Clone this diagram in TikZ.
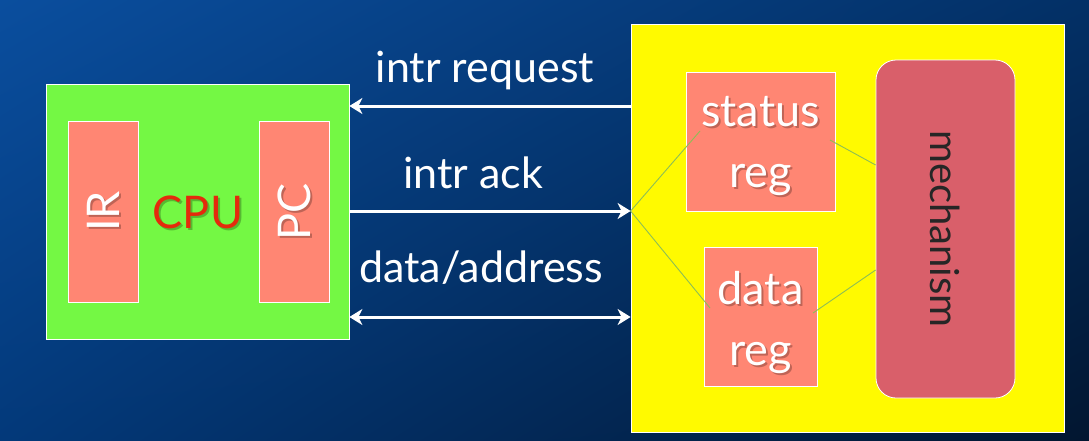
\documentclass[tikz,border=0pt]{standalone}
\usepackage{fontspec}
\setmainfont{Lato}
\usetikzlibrary{arrows.meta,shadings}
\definecolor{bgA}{HTML}{0A4E9E}
\definecolor{bgB}{HTML}{033066}
\definecolor{bgC}{HTML}{03397A}
\definecolor{bgD}{HTML}{021630}
\definecolor{cpugreen}{HTML}{74F844}
\definecolor{salmon}{HTML}{FF8673}
\definecolor{ylw}{HTML}{FFFA00}
\definecolor{mech}{HTML}{D95F6A}
\definecolor{cpured}{HTML}{E42A0C}
\definecolor{wire}{HTML}{8DBE55}
\begin{document}
\begin{tikzpicture}[x=1pt,y=-1pt,
  box/.style={draw=white, line width=0.8pt, inner sep=0pt},
  reg/.style={box, fill=salmon},
  lbl/.style={text=white, font=\fontsize{43}{48}\selectfont},
  big/.style={font=\fontsize{45}{50}\selectfont},
  regtxt/.style={text=white, font=\fontsize{45}{61}\selectfont, align=center},
  shadow/.style={text=black, opacity=0.25},
  arr/.style={draw=white, line width=3pt, arrows={-Stealth[length=13pt,width=16pt,inset=4pt]}},
  arr2/.style={draw=white, line width=3pt, arrows={Stealth[length=13pt,width=16pt,inset=4pt]-Stealth[length=13pt,width=16pt,inset=4pt]}},
  wirel/.style={draw=wire, line width=0.9pt}]
\useasboundingbox (0,0) rectangle (1089,440);
\shade[upper left=bgA, upper right=bgB, lower left=bgC, lower right=bgD] (0,0) rectangle (1089,440);
% CPU
\node[box, fill=cpugreen, minimum width=303pt, minimum height=255pt] (cpu) at (197.5,211.5) {};
\node[reg, minimum width=70pt, minimum height=181pt] (ir) at (103,211.5) {};
\node[reg, minimum width=70pt, minimum height=181pt] (pc) at (294,211.5) {};
\node[shadow, rotate=90, big] (irs) at ([shift={(2,2)}]ir.center) {IR};
\node[shadow, rotate=90, big] (pcs) at ([shift={(2,2)}]pc.center) {PC};
\node[text=white, rotate=90, big] (irt) at (ir) {IR};
\node[text=white, rotate=90, big] (pct) at (pc) {PC};
\node[shadow, big] (cpus) at (200,214) {CPU};
\node[text=cpured, big] (cput) at (198,212) {CPU};
% device
\node[box, fill=ylw, minimum width=433pt, minimum height=408pt] (dev) at (847.5,228) {};
\node[reg, minimum width=149pt, minimum height=139pt] (st) at (760.5,141.5) {};
\node[reg, minimum width=113pt, minimum height=139pt] (dr) at (760.5,316.5) {};
\node[box, fill=mech, rounded corners=20pt, minimum width=139pt, minimum height=338pt] (mc) at (945.5,229) {};
\node[regtxt, shadow] (sts) at ([shift={(2,7)}]st.center) {status\\reg};
\node[regtxt, shadow] (drs) at ([shift={(2,8)}]dr.center) {data\\reg};
\node[regtxt] (stt) at ([shift={(0,5)}]st.center) {status\\reg};
\node[regtxt] (drt) at ([shift={(0,6)}]dr.center) {data\\reg};
\node[text=black!85, rotate=-90, font=\fontsize{40}{44}\selectfont] (mct) at (mc) {mechanism};
% wires
\coordinate (tip) at (dev.west |- 0,211);
\coordinate (s1) at (700,131);
\coordinate (d1) at (710,308);
\coordinate (s2) at (830,140);
\coordinate (m1) at (mc.west |- 0,165);
\coordinate (d2) at (813,313);
\coordinate (m2) at (mc.west |- 0,270);
\draw[wirel] (tip) -- (s1);
\draw[wirel] (tip) -- (d1);
\draw[wirel] (s2) -- (m1);
\draw[wirel] (d2) -- (m2);
% arrows
\coordinate (rqA) at (dev.west |- 0,106);
\coordinate (rqB) at (cpu.east |- 0,106);
\coordinate (akA) at (cpu.east |- 0,211);
\coordinate (daA) at (cpu.east |- 0,317);
\coordinate (daB) at (dev.west |- 0,317);
\draw[arr] (rqA) -- (rqB);
\draw[arr] (akA) -- (tip);
\draw[arr2] (daA) -- (daB);
\node[lbl] (l1) at (485,70) {intr request};
\node[lbl] (l2) at (473,173) {intr ack};
\node[lbl] (l3) at (481,268) {data/address};
\end{tikzpicture}
\end{document}
